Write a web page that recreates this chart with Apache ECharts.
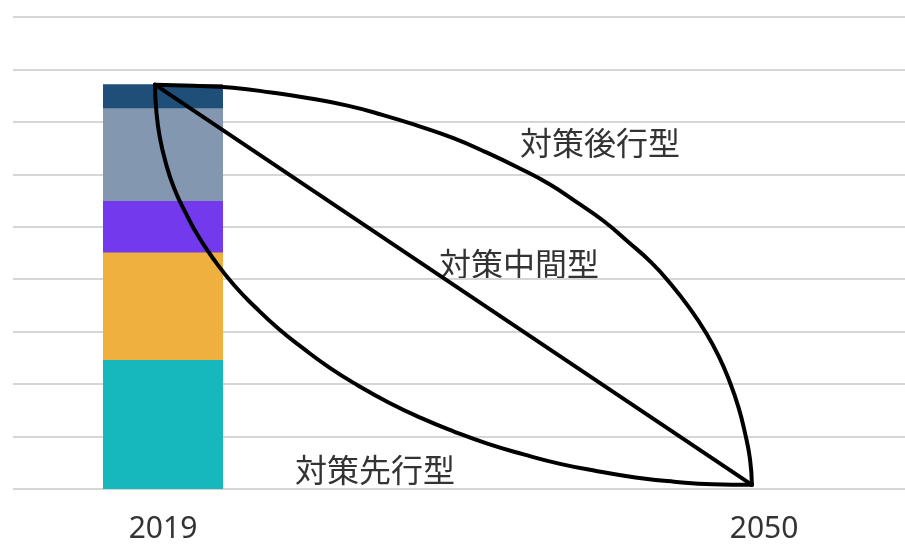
<!DOCTYPE html>
<html>
<head>
<meta charset="utf-8">
<script src="https://cdn.jsdelivr.net/npm/echarts@6/dist/echarts.min.js"></script>
<style>
  html, body { margin: 0; padding: 0; background: #fff; }
  #chart { width: 905px; height: 544px; }
</style>
</head>
<body>
<div id="chart"></div>
<script>
// Emissions in the base year, broken down by source (stacked bar, bottom to top)
const barYear = 2019;
const tickYears = [2019, 2050];
const segValues = [246, 205, 98, 177, 46];
const segColors = ['#16B8BD', '#F0B03E', '#7339EC', '#8497B0', '#1F4E79'];

// Reduction pathways from 2019 to 2050, [year, value]
const pathLate = [
  [2019, 771], [2021.0, 769], [2023.05, 765], [2025.05, 756], [2027.0, 745],
  [2029.0, 731], [2030.85, 713], [2032.7, 692], [2034.5, 669], [2036.2, 642],
  [2037.85, 613], [2039.45, 582], [2040.9, 547], [2042.3, 511], [2043.55, 472],
  [2044.77, 432], [2045.83, 389], [2046.76, 345], [2047.58, 300], [2048.28, 253],
  [2048.84, 205], [2049.3, 156], [2049.64, 107], [2049.9, 57], [2050, 8]
];
const pathMid = [[2019, 771], [2050, 8]];
const pathEarly = [
  [2019, 771], [2019.07, 721], [2019.25, 671], [2019.56, 622], [2020.0, 573],
  [2020.6, 526], [2021.3, 479], [2022.15, 433], [2023.1, 389], [2024.2, 347],
  [2025.4, 306], [2026.7, 268], [2028.08, 231], [2029.56, 197], [2031.13, 165],
  [2032.78, 136], [2034.5, 110], [2036.3, 86], [2038.14, 66], [2040.04, 48],
  [2041.98, 34], [2043.95, 22], [2045.96, 14], [2047.97, 9], [2050, 8]
];
const pathNames = ['対策後行型', '対策中間型', '対策先行型'];

const chart = echarts.init(document.getElementById('chart'));

// Each segment is drawn from its cumulative top; lower segments are drawn
// later so they cover the part of the taller bars beneath them.
const cumulative = [];
segValues.reduce((acc, v, i) => (cumulative[i] = acc + v), 0);
const barSeries = segValues.map((v, i) => i).reverse().map(i => ({
  type: 'bar',
  xAxisIndex: 0,
  barWidth: 120,
  barGap: '-100%',
  data: [[barYear, cumulative[i]]],
  itemStyle: { color: segColors[i] },
  silent: true
}));

const pathLine = (name, data) => ({
  type: 'line',
  name: name,
  xAxisIndex: 1,
  data: data,
  smooth: 0.5,
  symbol: 'none',
  lineStyle: { color: '#000', width: 4, cap: 'round', join: 'round' },
  z: 5,
  silent: true
});

const labelFont = '32px "Noto Sans CJK JP", "Noto Sans", sans-serif';
const pathLabel = (text, x, y) => ({
  type: 'text',
  x: x,
  y: y,
  style: {
    text: text,
    font: labelFont,
    fill: '#333',
    align: 'center',
    verticalAlign: 'middle'
  }
});

chart.setOption({
  animation: false,
  backgroundColor: '#fff',
  grid: { left: 13, right: 0, top: 17, bottom: 52 },
  xAxis: [
    {
      type: 'value',
      min: 2011.263,
      max: 2057.27,
      axisLine: { show: false },
      axisTick: { show: false },
      splitLine: { show: false },
      axisLabel: {
        customValues: tickYears,
        margin: 25,
        color: '#333',
        fontSize: 30,
        fontFamily: '"Noto Sans", sans-serif',
        formatter: v => String(v)
      }
    },
    {
      type: 'value',
      min: 2011.627,
      max: 2057.95,
      show: false
    }
  ],
  yAxis: {
    type: 'value',
    min: 0,
    max: 900,
    interval: 100,
    axisLine: { show: false },
    axisTick: { show: false },
    axisLabel: { show: false },
    splitLine: { lineStyle: { color: '#d6d6d6', width: 2 } }
  },
  series: barSeries.concat([
    pathLine(pathNames[0], pathLate),
    pathLine(pathNames[1], pathMid),
    pathLine(pathNames[2], pathEarly)
  ]),
  graphic: [
    pathLabel(pathNames[0], 600, 143),
    pathLabel(pathNames[1], 519, 264),
    pathLabel(pathNames[2], 375, 470)
  ]
});
</script>
</body>
</html>
